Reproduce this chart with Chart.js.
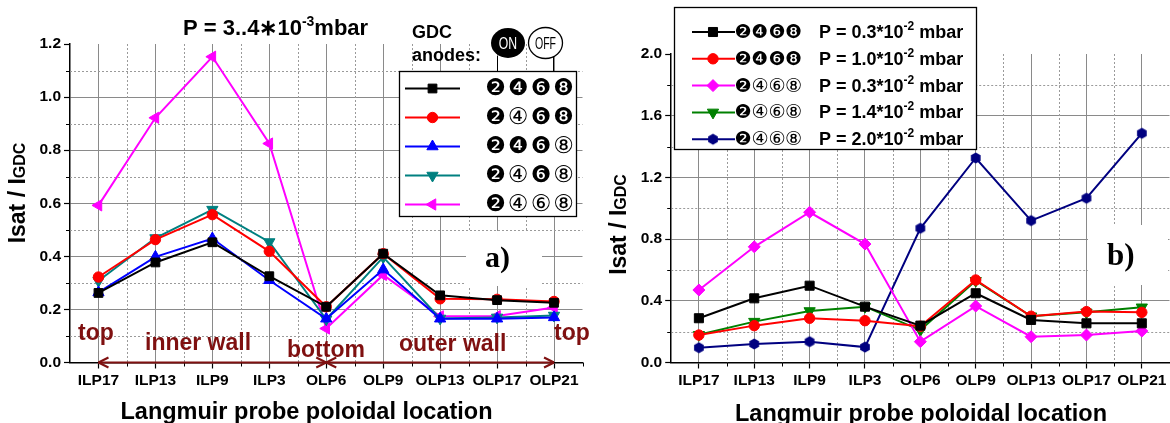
<!DOCTYPE html>
<html>
<head>
<meta charset="utf-8">
<script src="https://cdn.jsdelivr.net/npm/chart.js@4.4.1/dist/chart.umd.min.js"></script>
<style>
  html, body { margin: 0; padding: 0; background: #fff; width: 1170px; height: 423px; overflow: hidden; }
  .panel { position: absolute; top: 0; height: 423px; }
  #panelA { left: 0; width: 600px; z-index: 2; }
  #panelB { left: 585px; width: 592px; z-index: 1; }
</style>
</head>
<body>
<div class="panel" id="panelA"><canvas id="chartA" width="600" height="423"></canvas></div>
<div class="panel" id="panelB"><canvas id="chartB" width="592" height="423"></canvas></div>
<script>
// === DATA ===
const probes = ["ILP17", "ILP13", "ILP9", "ILP3", "OLP6", "OLP9", "OLP13", "OLP17", "OLP21"];

// panel a) P = 3..4e-3 mbar, different anode sets
const aAllOn   = [0.262, 0.377, 0.453, 0.325, 0.21, 0.41, 0.253, 0.235, 0.225];
const a4Off    = [0.322, 0.463, 0.557, 0.419, 0.21, 0.41, 0.24, 0.238, 0.23];
const a8Off    = [0.264, 0.398, 0.467, 0.31, 0.165, 0.35, 0.165, 0.165, 0.17];
const a48Off   = [0.308, 0.469, 0.576, 0.454, 0.163, 0.397, 0.166, 0.17, 0.177];
const aOnly2   = [0.592, 0.922, 1.152, 0.825, 0.128, 0.33, 0.174, 0.175, 0.207];
const aAnodes  = ["❷❹❻❽", "❷④❻❽", "❷❹❻⑧", "❷④❻⑧", "❷④⑥⑧"];
const aTicks   = [0, 0.2, 0.4, 0.6, 0.8, 1.0, 1.2];

// panel b) different pressures
const bP03On    = [0.287, 0.416, 0.498, 0.362, 0.239, 0.449, 0.276, 0.254, 0.254];
const bP10On    = [0.178, 0.239, 0.287, 0.271, 0.235, 0.535, 0.30, 0.33, 0.325];
const bP03Only2 = [0.47, 0.75, 0.974, 0.768, 0.135, 0.366, 0.167, 0.178, 0.204];
const bP14Only2 = [0.18, 0.265, 0.334, 0.362, 0.21, 0.53, 0.30, 0.325, 0.358];
const bP20Only2 = [0.096, 0.12, 0.135, 0.10, 0.87, 1.326, 0.92, 1.065, 1.486];
const bAnodes   = ["❷❹❻❽", "❷❹❻❽", "❷④⑥⑧", "❷④⑥⑧", "❷④⑥⑧"];
const bPress    = ["0.3", "1.0", "0.3", "1.4", "2.0"];
const bTicks    = [0, 0.4, 0.8, 1.2, 1.6, 2.0];

const wallLabels = ["top", "inner wall", "bottom", "outer wall", "top"];

// === STYLE ===
const FONT = '"Liberation Sans", Arial, sans-serif';
const SERIF = '"Liberation Serif", "Times New Roman", serif';
const DIGITS = '"DejaVu Sans", "Noto Sans CJK JP", sans-serif';
const DARK_RED = "#7f1010";
const GRID = "#8a8a8a";
const MINOR = "#9a9a9a";

function hexagon(color, r) {
  const c = document.createElement("canvas");
  const s = Math.ceil(r * 2 + 2);
  c.width = s; c.height = s;
  const g = c.getContext("2d");
  g.fillStyle = color;
  g.beginPath();
  for (let k = 0; k < 6; k++) {
    const ang = Math.PI / 2 + k * Math.PI / 3;
    const px = s / 2 + r * Math.cos(ang), py = s / 2 + r * Math.sin(ang);
    k ? g.lineTo(px, py) : g.moveTo(px, py);
  }
  g.closePath();
  g.fill();
  return c;
}

const aStyles = [
  { color: "#000000", style: "rect", rot: 0, r: 6.2 },
  { color: "#ff0000", style: "circle", rot: 0, r: 5.2 },
  { color: "#0000ff", style: "triangle", rot: 0, r: 6.5 },
  { color: "#008080", style: "triangle", rot: 180, r: 6.5 },
  { color: "#ff00ff", style: "triangle", rot: -90, r: 6.5 }
];
const bStyles = [
  { color: "#000000", style: "rect", rot: 0, r: 6.4 },
  { color: "#ff0000", style: "circle", rot: 0, r: 5.2 },
  { color: "#ff00ff", style: "rectRot", rot: 0, r: 6 },
  { color: "#008000", style: "triangle", rot: 180, r: 6.5 },
  { color: "#000080", style: hexagon("#000080", 5.6), rot: 0, r: 5.6 }
];

function makeDatasets(series, styles, labels) {
  return series.map((d, i) => ({
    label: labels[i],
    data: d,
    borderColor: styles[i].color,
    backgroundColor: styles[i].color,
    borderWidth: 2,
    tension: 0,
    pointStyle: styles[i].style,
    pointRotation: styles[i].rot,
    pointRadius: styles[i].r,
    pointBorderWidth: 1,
    pointBorderColor: styles[i].color,
    pointBackgroundColor: styles[i].color
  }));
}

// === DRAW HELPERS ===
function runsWidth(ctx, runs, family) {
  let w = 0;
  runs.forEach(([t, size]) => { ctx.font = `bold ${size}px ${family}`; w += ctx.measureText(t).width; });
  return w;
}
function drawRuns(ctx, x, y, runs, family) {
  ctx.textAlign = "left";
  ctx.textBaseline = "alphabetic";
  runs.forEach(([t, size, dy]) => {
    ctx.font = `bold ${size}px ${family}`;
    ctx.fillText(t, x, y + (dy || 0));
    x += ctx.measureText(t).width;
  });
}
function line(ctx, x1, y1, x2, y2) {
  ctx.beginPath(); ctx.moveTo(x1, y1); ctx.lineTo(x2, y2); ctx.stroke();
}
function minorGrid(chart, step) {
  const { ctx, chartArea: a, scales: { x, y } } = chart;
  ctx.save();
  ctx.lineWidth = 1;
  for (let v = step / 2; v < y.max; v += step) {
    const py = Math.round(y.getPixelForValue(v)) + 0.5;
    ctx.strokeStyle = MINOR; ctx.setLineDash([2, 2]);
    line(ctx, a.left, py, a.right, py);
    ctx.strokeStyle = "#000"; ctx.setLineDash([]);
    line(ctx, a.left - 4, py, a.left, py);
  }
  for (let i = 0; i < probes.length; i++) {
    const px = Math.round(x.getPixelForValue(i + 0.5)) + 0.5;
    if (i < probes.length - 1) {
      ctx.strokeStyle = MINOR; ctx.setLineDash([2, 2]);
      line(ctx, px, a.top, px, a.bottom);
    }
    ctx.strokeStyle = "#000"; ctx.setLineDash([]);
    line(ctx, px, a.bottom, px, a.bottom + 4);
  }
  ctx.restore();
}
function whiteBox(ctx, x, y, w, h) {
  ctx.save(); ctx.fillStyle = "#fff"; ctx.fillRect(x, y, w, h); ctx.restore();
}
function legendMarker(ctx, st, x, y) {
  ctx.save();
  ctx.fillStyle = st.color; ctx.strokeStyle = st.color; ctx.lineWidth = 1;
  Chart.helpers.drawPoint(ctx, { pointStyle: st.style, radius: st.r, rotation: st.rot, borderWidth: 1 }, x, y);
  ctx.restore();
}
function digitRow(ctx, text, xs, y, size) {
  ctx.save();
  ctx.fillStyle = "#000";
  ctx.font = `${size}px ${DIGITS}`;
  ctx.textAlign = "center"; ctx.textBaseline = "middle";
  Array.from(text).forEach((ch, k) => ctx.fillText(ch, xs[k], y));
  ctx.restore();
}
function yTitle(ctx, cx, cy) {
  const runs = [["Isat / I", 23], ["GDC", 16]];
  ctx.save();
  ctx.fillStyle = "#000";
  ctx.translate(cx, cy);
  ctx.rotate(-Math.PI / 2);
  const w = runsWidth(ctx, runs, FONT);
  drawRuns(ctx, -w / 2, 0, runs, FONT);
  ctx.restore();
}
function xTitle(ctx, cx, by) {
  ctx.save();
  ctx.fillStyle = "#000";
  ctx.font = `bold 23.5px ${FONT}`;
  ctx.textAlign = "center"; ctx.textBaseline = "alphabetic";
  ctx.fillText("Langmuir probe poloidal location", cx, by);
  ctx.restore();
}
function chevron(ctx, x, y, dir) {
  line(ctx, x + dir * 10, y - 5, x, y);
  line(ctx, x, y, x + dir * 10, y + 5);
}

function scaleOptions(max, ticks, yWidth) {
  const tickFont = { family: FONT, size: 15.5, weight: "bold" };
  return {
    x: {
      offset: true,
      grid: { color: GRID, lineWidth: 1, tickLength: 6, tickColor: "#000", tickWidth: 1.2, offset: false },
      border: { color: "#000", width: 1.5 },
      ticks: { color: "#000", font: tickFont, maxRotation: 0, autoSkip: false, padding: 3 },
      afterFit: (s) => { s.height = 60.5; }
    },
    y: {
      min: 0, max: max,
      afterBuildTicks: (s) => { s.ticks = ticks.map(v => ({ value: v })); },
      grid: {
        color: (c) => (c.tick && (c.tick.value === 0 || Math.abs(c.tick.value - max) < 1e-6)) ? "rgba(0,0,0,0)" : GRID,
        lineWidth: 1, tickLength: 6, tickColor: "#000", tickWidth: 1.2
      },
      border: { color: "#000", width: 1.5 },
      ticks: { color: "#000", font: tickFont, padding: 3, callback: (v) => Number(v).toFixed(1) },
      afterFit: (s) => { s.width = yWidth; }
    }
  };
}

// === PANEL A ===
const decorA = {
  id: "decorA",
  beforeDatasetsDraw(chart) {
    minorGrid(chart, 0.2);
    whiteBox(chart.ctx, 466, 231, 76, 55);
  },
  afterDraw(chart) {
    const ctx = chart.ctx;
    const x = chart.scales.x, y = chart.scales.y;
    ctx.save();
    ctx.fillStyle = "#000";
    // title
    drawRuns(ctx, 183, 35, [["P = 3..4∗10", 22, 0], ["-3", 14, -9], ["mbar", 22, 0]], FONT);
    // GDC anodes + ON/OFF badges
    ctx.font = `bold 18px ${FONT}`;
    ctx.fillText("GDC", 412, 38);
    ctx.fillText("anodes:", 412, 61);
    ctx.beginPath(); ctx.ellipse(508, 43, 17, 15, 0, 0, Math.PI * 2); ctx.fill();
    ctx.fillStyle = "#fff"; ctx.strokeStyle = "#000"; ctx.lineWidth = 1.3;
    ctx.beginPath(); ctx.ellipse(545.5, 43, 17, 15.5, 0, 0, Math.PI * 2); ctx.fill(); ctx.stroke();
    ctx.textAlign = "center"; ctx.textBaseline = "middle";
    ctx.save(); ctx.translate(508, 44); ctx.scale(0.72, 1); ctx.fillStyle = "#fff";
    ctx.font = `17px ${FONT}`; ctx.fillText("ON", 0, 0); ctx.restore();
    ctx.save(); ctx.translate(545.5, 44); ctx.scale(0.62, 1); ctx.fillStyle = "#000";
    ctx.font = `17px ${FONT}`; ctx.fillText("OFF", 0, 0); ctx.restore();
    ctx.lineWidth = 1;
    line(ctx, 497.5, 56, 497.5, 71);
    line(ctx, 553.5, 57, 553.5, 71);
    // legend
    whiteBox(ctx, 399, 71, 178, 146);
    ctx.strokeStyle = "#000"; ctx.lineWidth = 1.3;
    ctx.strokeRect(399.5, 71.5, 177, 145);
    aStyles.forEach((st, i) => {
      const cy = 88.5 + i * 29;
      ctx.strokeStyle = st.color; ctx.lineWidth = 2;
      line(ctx, 405, cy, 460, cy);
      legendMarker(ctx, st, 432.5, cy);
      digitRow(ctx, aAnodes[i], [495.5, 518, 541, 563.5], cy + 1, 23);
    });
    // wall annotations and arrows
    ctx.fillStyle = DARK_RED;
    ctx.font = `bold 23px ${FONT}`;
    ctx.textAlign = "left"; ctx.textBaseline = "alphabetic";
    const pos = [[78, 340], [145, 350], [287, 356.5], [399, 350.5], [554, 340]];
    wallLabels.forEach((t, i) => ctx.fillText(t, pos[i][0], pos[i][1]));
    const y0 = y.getPixelForValue(0);
    const xi = (i) => x.getPixelForValue(i);
    ctx.strokeStyle = DARK_RED; ctx.lineWidth = 2;
    line(ctx, xi(0), y0, xi(4), y0);
    line(ctx, xi(4), y0, xi(8), y0);
    chevron(ctx, xi(0), y0, 1);
    chevron(ctx, xi(4), y0, -1);
    chevron(ctx, xi(4), y0, 1);
    chevron(ctx, xi(8), y0, -1);
    // panel mark
    ctx.fillStyle = "#000";
    ctx.font = `bold 30px ${SERIF}`;
    ctx.fillText("a)", 485, 267);
    ctx.restore();
    yTitle(ctx, 25, 193);
    xTitle(ctx, 306.5, 418.5);
  }
};

new Chart(document.getElementById("chartA"), {
  type: "line",
  data: {
    labels: probes,
    datasets: makeDatasets([aAllOn, a4Off, a8Off, a48Off, aOnly2], aStyles, aAnodes)
  },
  options: {
    responsive: false,
    animation: false,
    layout: { padding: { left: 0, right: 17.5, top: 44, bottom: 0 } },
    plugins: { legend: { display: false }, tooltip: { enabled: false } },
    scales: scaleOptions(1.2, aTicks, 70)
  },
  plugins: [decorA]
});

// === PANEL B ===
const decorB = {
  id: "decorB",
  beforeDatasetsDraw(chart) {
    minorGrid(chart, 0.4);
    whiteBox(chart.ctx, 503, 225, 80, 60);
  },
  afterDraw(chart) {
    const ctx = chart.ctx;
    ctx.save();
    // legend
    whiteBox(ctx, 89, 7, 303, 143);
    ctx.strokeStyle = "#000"; ctx.lineWidth = 1.3;
    ctx.strokeRect(89.5, 7.5, 302, 142);
    bStyles.forEach((st, i) => {
      const cy = 32 + i * 26.8;
      ctx.strokeStyle = st.color; ctx.lineWidth = 2;
      line(ctx, 107, cy, 150, cy);
      legendMarker(ctx, st, 128, cy);
      digitRow(ctx, bAnodes[i], [158, 175, 192, 208.5], cy + 1, 19);
      ctx.fillStyle = "#000";
      drawRuns(ctx, 234, cy + 6, [["P = " + bPress[i] + "*10", 18, 0], ["-2", 12, -8], [" mbar", 18, 0]], FONT);
    });
    // panel mark
    ctx.fillStyle = "#000";
    ctx.font = `bold 31px ${SERIF}`;
    ctx.textAlign = "left"; ctx.textBaseline = "alphabetic";
    ctx.fillText("b)", 522, 265);
    ctx.restore();
    yTitle(ctx, 41, 224.5);
    xTitle(ctx, 336, 421);
  }
};

new Chart(document.getElementById("chartB"), {
  type: "line",
  data: {
    labels: probes,
    datasets: makeDatasets([bP03On, bP10On, bP03Only2, bP14Only2, bP20Only2], bStyles,
      bPress.map((p, i) => bAnodes[i] + " P = " + p))
  },
  options: {
    responsive: false,
    animation: false,
    layout: { padding: { left: 0, right: 5.2, top: 54, bottom: 0 } },
    plugins: { legend: { display: false }, tooltip: { enabled: false } },
    scales: scaleOptions(2.0, bTicks, 86.2)
  },
  plugins: [decorB]
});
</script>
</body>
</html>
